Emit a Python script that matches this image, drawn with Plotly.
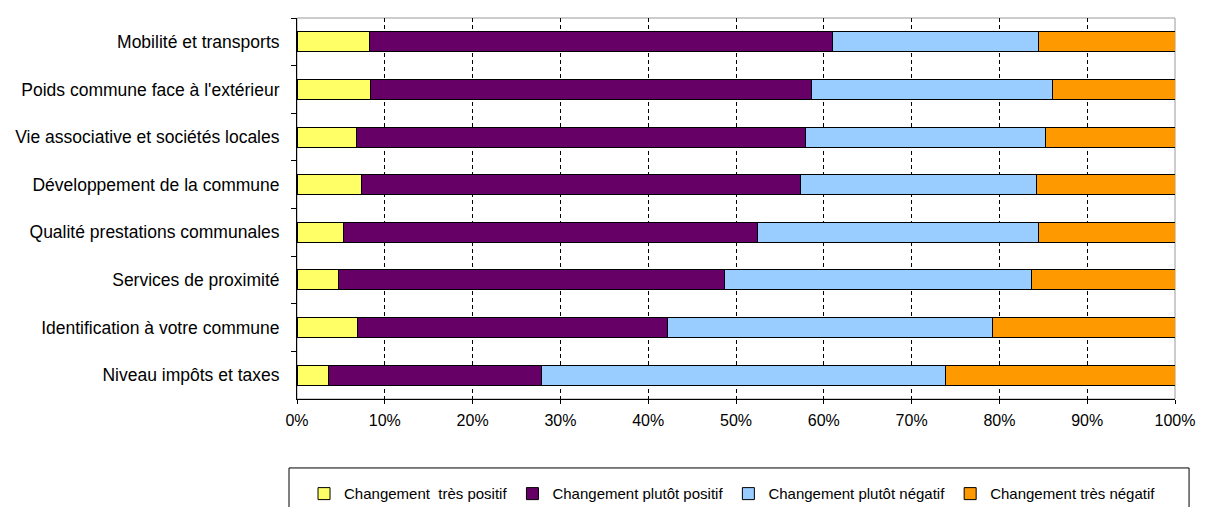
import plotly.graph_objects as go

categories = [
    "Mobilité et transports",
    "Poids commune face à l'extérieur",
    "Vie associative et sociétés locales",
    "Développement de la commune",
    "Qualité prestations communales",
    "Services de proximité",
    "Identification à votre commune",
    "Niveau impôts et taxes",
]

tres_positif = [8.2, 8.35, 6.8, 7.4, 5.3, 4.75, 6.9, 3.6]
plutot_positif = [52.8, 50.25, 51.1, 49.9, 47.2, 43.95, 35.3, 24.2]
plutot_negatif = [23.4, 27.4, 27.3, 26.9, 32.0, 34.9, 37.0, 46.1]
tres_negatif = [15.6, 14.0, 14.8, 15.8, 15.5, 16.4, 20.8, 26.1]

series_names = [
    "Changement  très positif",
    "Changement plutôt positif",
    "Changement plutôt négatif",
    "Changement très négatif",
]
series_values = [tres_positif, plutot_positif, plutot_negatif, tres_negatif]
colors = ["#FFFF66", "#660066", "#99CCFF", "#FF9900"]

x_ticks = list(range(0, 101, 10))

FONT = "Liberation Sans, Arial, sans-serif"

fig = go.Figure()
for name, vals, col in zip(series_names, series_values, colors):
    fig.add_trace(go.Bar(
        y=categories, x=vals, name=name, orientation="h",
        marker=dict(color=col, line=dict(color="#000000", width=1)),
        width=0.42,
    ))

fig.update_layout(
    barmode="stack",
    width=1201, height=499,
    margin=dict(l=289, r=34, t=10, b=108, autoexpand=False),
    paper_bgcolor="white", plot_bgcolor="white",
    font=dict(family=FONT, size=16, color="black"),
    showlegend=True,
    legend=dict(
        orientation="h", x=0.008, xanchor="left", y=-0.249, yanchor="middle",
        bgcolor="rgba(0,0,0,0)", borderwidth=0,
        font=dict(family=FONT, size=15, color="black"),
        traceorder="normal", itemwidth=30,
    ),
    shapes=[
        dict(type="rect", xref="paper", yref="paper", x0=0, x1=1, y0=0, y1=1,
             line=dict(color="#999999", width=1), layer="below"),
        dict(type="rect", xref="paper", yref="paper", x0=-0.0091, x1=1.016,
             y0=-0.181, y1=-0.35, line=dict(color="#000000", width=1),
             fillcolor="rgba(0,0,0,0)"),
    ],
)

fig.update_xaxes(
    range=[0, 100], tickvals=x_ticks, ticktext=[f"{v}%" for v in x_ticks],
    showgrid=True, gridcolor="#000000", griddash="4px,3px", gridwidth=1,
    showline=True, linecolor="#000000", linewidth=1,
    ticks="outside", ticklen=4, tickcolor="#000000",
    tickfont=dict(family=FONT, size=16, color="black"),
    ticklabelstandoff=3,
    zeroline=False,
)
fig.update_yaxes(
    autorange="reversed", showgrid=False,
    showline=True, linecolor="#000000", linewidth=1,
    ticks="outside", ticklen=5, tickcolor="#000000", tickson="boundaries",
    tickfont=dict(family=FONT, size=17.5, color="black"),
    ticklabelstandoff=13,
)

fig.write_html("out.html")
